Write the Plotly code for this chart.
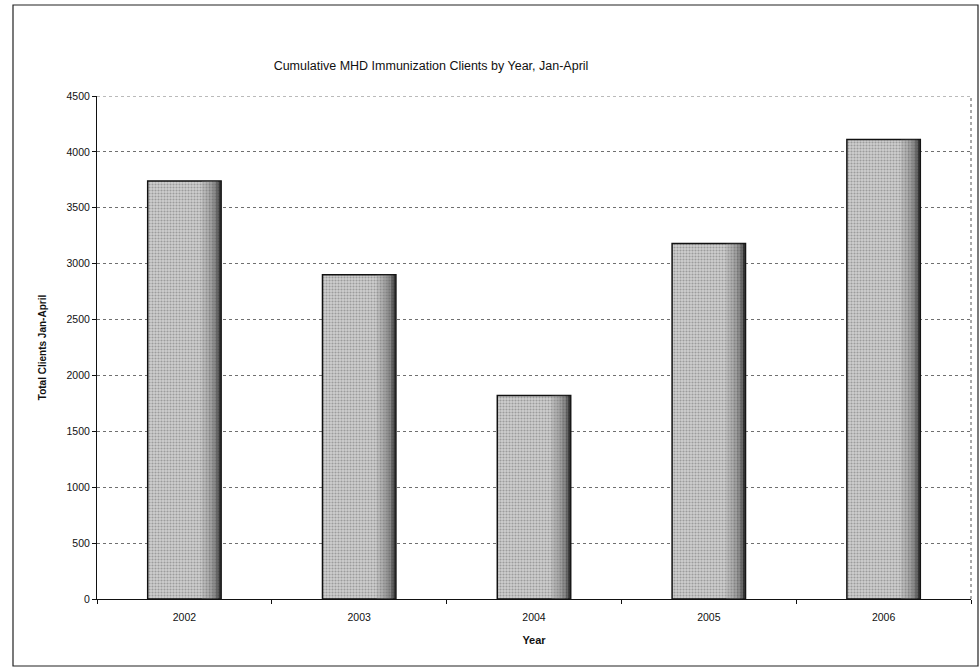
import plotly.graph_objects as go

years = ["2002", "2003", "2004", "2005", "2006"]
clients = [3740, 2900, 1820, 3180, 4110]
y_ticks = [0, 500, 1000, 1500, 2000, 2500, 3000, 3500, 4000, 4500]

W, H = 979, 669
L, R, T, B = 97, 8, 96, 70

fig = go.Figure()
# main bar body
fig.add_trace(go.Bar(
    x=years, y=clients,
    marker=dict(
        color="#bdbdbd",
        line=dict(color="#111111", width=1.5),
        pattern=dict(shape=".", fgcolor="#6a6a6a", bgcolor="#cfcfcf",
                     size=3, solidity=0.4, fillmode="overlay"),
    ),
    width=0.42, offset=-0.21,
))
# shaded right edge of each bar (gradient look)
shade_steps = [(0.10, "rgba(130,130,130,0.25)"),
               (0.12, "rgba(120,120,120,0.35)"),
               (0.14, "rgba(105,105,105,0.45)"),
               (0.16, "rgba(85,85,85,0.55)"),
               (0.18, "rgba(60,60,60,0.7)"),
               (0.195, "rgba(30,30,30,0.85)")]
for i, (off, col) in enumerate(shade_steps):
    nxt = shade_steps[i + 1][0] if i + 1 < len(shade_steps) else 0.21
    fig.add_trace(go.Bar(
        x=years, y=clients,
        marker=dict(color=col, line=dict(width=0)),
        width=nxt - off, offset=off, hoverinfo="skip",
    ))

def px_x(p):
    return (p - L) / (W - L - R)

def px_y(p):
    return 1 - (p - T) / (H - T - B)

fig.update_layout(
    width=W, height=H,
    margin=dict(l=L, r=R, t=T, b=B),
    paper_bgcolor="white", plot_bgcolor="white",
    showlegend=False,
    barmode="overlay",
    font=dict(family="Liberation Sans, Arial", color="#111111"),
    title=dict(text="Cumulative MHD Immunization Clients by Year, Jan-April",
               x=431 / W, xanchor="center", y=1 - 66 / H, yanchor="middle",
               font=dict(size=12.5, color="#111111")),
    xaxis=dict(
        title=dict(text="<b>Year</b>", font=dict(size=11), standoff=14),
        tickfont=dict(size=10.5),
        ticklabelstandoff=8,
        showline=True, linecolor="#111111", linewidth=1,
        ticks="outside", ticklen=4, tickcolor="#111111",
        tickson="boundaries",
        showgrid=False,
        mirror=False,
    ),
    yaxis=dict(
        title=dict(text="<b>Total Clients Jan-April</b>", font=dict(size=10), standoff=18),
        range=[0, 4500],
        tickvals=y_ticks,
        tickfont=dict(size=10.5),
        showline=True, linecolor="#111111", linewidth=1,
        ticks="outside", ticklen=4, tickcolor="#111111",
        showgrid=True, gridcolor="#707070", gridwidth=1, griddash="dot",
        zeroline=False,
    ),
    shapes=[
        # outer chart border
        dict(type="rect", xref="paper", yref="paper",
             x0=px_x(13), x1=px_x(978), y0=px_y(666), y1=px_y(5),
             line=dict(color="#222222", width=1.2), fillcolor="rgba(0,0,0,0)"),
        # right dotted plot edge
        dict(type="line", xref="paper", yref="paper",
             x0=1, x1=1, y0=0, y1=1,
             line=dict(color="#555555", width=1, dash="dot")),
        # top dotted gridline at the axis maximum
        dict(type="line", xref="paper", yref="y",
             x0=0, x1=1, y0=y_ticks[-1], y1=y_ticks[-1],
             line=dict(color="#777777", width=1, dash="dot")),
    ],
)

fig.write_html("out.html")
